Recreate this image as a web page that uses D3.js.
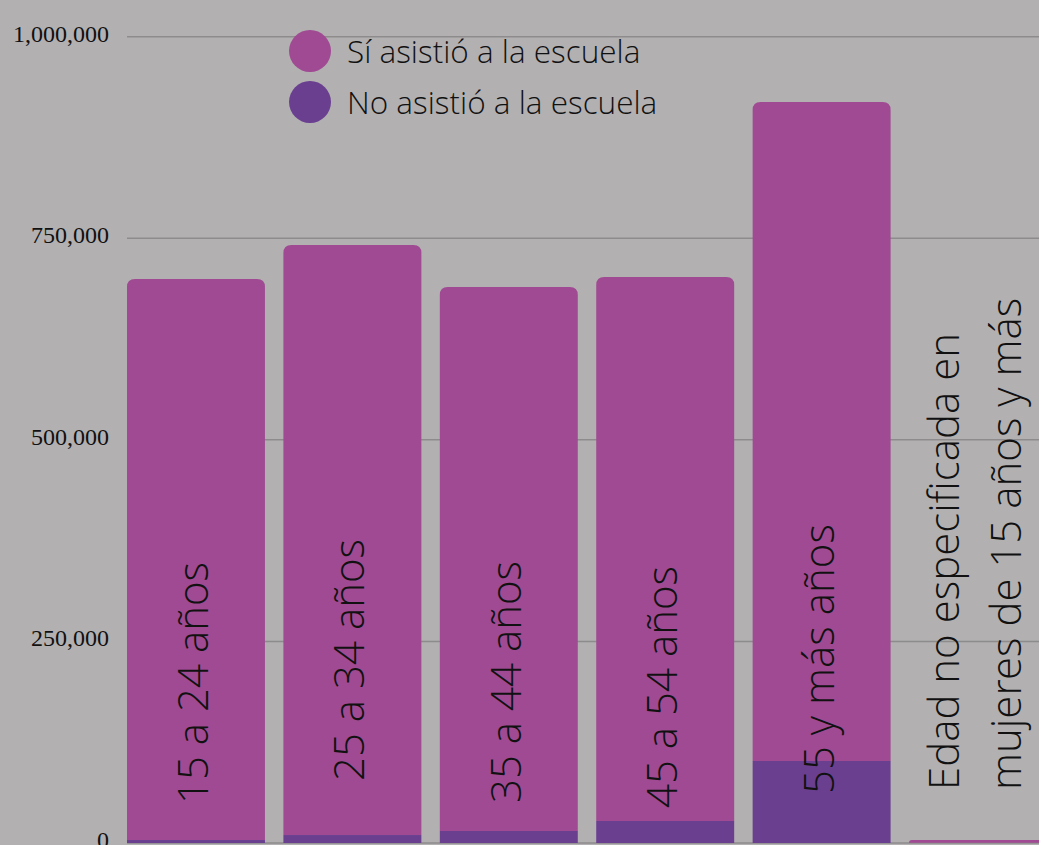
<!DOCTYPE html>
<html lang="es">
<head>
    <meta charset="UTF-8">
    <title>Asistencia escolar de mujeres de 15 años y más</title>
    <script src="https://d3js.org/d3.v7.min.js"></script>
    <style>
        html, body { margin: 0; padding: 0; background: #b2b0b1; overflow: hidden; }
        .tick-label { font-family: "Liberation Serif", serif; font-size: 24px; fill: #111; }
        .cat-label, .legend-label { font-family: "Open Sans Light", "Open Sans", sans-serif; font-weight: 300; fill: #111; }
        .grid { stroke: #8d8b8c; stroke-width: 1.5px; }
    </style>
</head>
<body>
    <svg width="1039" height="845"></svg>
    <script>
        const categories = ["15 a 24 años", "25 a 34 años", "35 a 44 años", "45 a 54 años", "55 y más años",
            "Edad no especificada en mujeres de 15 años y más"];
        const siAsistio = [695700, 731700, 674600, 674600, 817200, 3500];
        const noAsistio = [3700, 9900, 14900, 27300, 101700, 200];
        const seriesNames = ["Sí asistió a la escuela", "No asistió a la escuela"];
        const yTicks = [0, 250000, 500000, 750000, 1000000];

        const svg = d3.select("svg"),
              width = +svg.attr("width"),
              height = +svg.attr("height");

        const colors = { si: "#9f4a92", no: "#6a3f90" };

        svg.append("rect").attr("width", width).attr("height", height).attr("fill", "#b2b0b1");

        const x = d3.scaleBand()
            .domain(categories)
            .range([127, 1047])
            .paddingInner(0.118)
            .paddingOuter(0);

        const y = d3.scaleLinear()
            .domain([0, 1000000])
            .range([843, 36.7]);

        // gridlines + tick labels
        svg.append("g")
            .selectAll("line")
            .data(yTicks)
            .enter().append("line")
            .attr("class", "grid")
            .attr("x1", 127)
            .attr("x2", width)
            .attr("y1", d => y(d))
            .attr("y2", d => y(d));

        svg.append("g")
            .selectAll("text")
            .data(yTicks)
            .enter().append("text")
            .attr("class", "tick-label")
            .attr("x", 109)
            .attr("y", d => y(d) + 5)
            .attr("text-anchor", "end")
            .text(d => d3.format(",")(d));

        const rows = categories.map((c, i) => ({ cat: c, no: noAsistio[i], si: siAsistio[i] }));

        // bottom segment: no asistió
        svg.append("g")
            .selectAll("rect")
            .data(rows)
            .enter().append("rect")
            .attr("x", d => x(d.cat))
            .attr("width", x.bandwidth())
            .attr("y", d => y(d.no))
            .attr("height", d => y(0) - y(d.no))
            .attr("fill", colors.no);

        // top segment: sí asistió, rounded top corners
        function topRounded(x0, y0, w, h, r) {
            r = Math.min(r, h, w / 2);
            return `M${x0},${y0 + h}V${y0 + r}Q${x0},${y0} ${x0 + r},${y0}H${x0 + w - r}Q${x0 + w},${y0} ${x0 + w},${y0 + r}V${y0 + h}Z`;
        }

        svg.append("g")
            .selectAll("path")
            .data(rows)
            .enter().append("path")
            .attr("fill", colors.si)
            .attr("d", d => {
                const yTop = y(d.no + d.si), yBot = y(d.no);
                return topRounded(x(d.cat), yTop, x.bandwidth(), yBot - yTop, 8);
            });

        // category labels, rotated inside the bars
        const labelLines = [
            ["15 a 24 años"], ["25 a 34 años"], ["35 a 44 años"], ["45 a 54 años"], ["55 y más años"],
            ["Edad no especificada en", "mujeres de 15 años y más"]
        ];
        const labelNudge = [2, -21, 1, 6, -8, -12];
        const lineGap = 62;

        categories.forEach((c, i) => {
            const lines = labelLines[i];
            const cx = x(c) + x.bandwidth() / 2;
            lines.forEach((t, j) => {
                const off = (j - (lines.length - 1) / 2) * lineGap;
                const bx = cx + off + 12;
                const by = 802 + labelNudge[i];
                svg.append("text")
                    .attr("class", "cat-label")
                    .attr("font-size", 42)
                    .attr("transform", `translate(${bx},${by}) rotate(-90)`)
                    .attr("text-anchor", "start")
                    .text(t);
            });
        });

        // legend
        const legend = svg.append("g");
        seriesNames.forEach((n, i) => {
            const cy = 51 + i * 51;
            legend.append("circle")
                .attr("cx", 310)
                .attr("cy", cy)
                .attr("r", 21)
                .attr("fill", i === 0 ? colors.si : colors.no);
            legend.append("text")
                .attr("class", "legend-label")
                .attr("font-size", 31.5)
                .attr("x", 347)
                .attr("y", cy + 12)
                .text(n);
        });
    </script>
</body>
</html>
